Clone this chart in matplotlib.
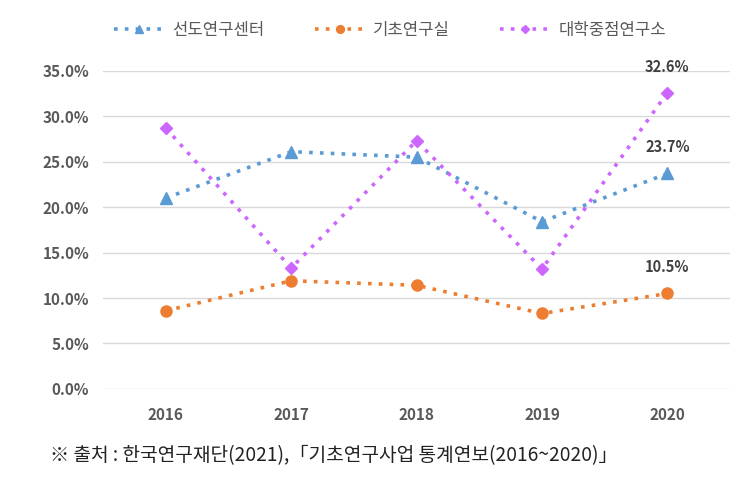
import matplotlib
matplotlib.use("Agg")
import matplotlib.pyplot as plt
from matplotlib.ticker import FuncFormatter

plt.rcParams['font.family'] = ['Noto Sans CJK KR', 'DejaVu Sans']

years = ['2016', '2017', '2018', '2019', '2020']
leading = [21.0, 26.1, 25.5, 18.4, 23.7]      # 선도연구센터
basic_lab = [8.6, 11.9, 11.4, 8.3, 10.5]      # 기초연구실
univ_inst = [28.7, 13.3, 27.3, 13.2, 32.6]    # 대학중점연구소
names = ['선도연구센터', '기초연구실', '대학중점연구소']
source = '※ 출처 : 한국연구재단(2021),「기초연구사업 통계연보(2016~2020)」'

fig = plt.figure(figsize=(7.36, 4.88), dpi=100)
ax = fig.add_axes([0.14, 0.203, 0.852, 0.652])

x = range(len(years))
series = [
    (leading, '#5B9BD5', '^', 8),
    (basic_lab, '#ED7D31', 'o', 8),
    (univ_inst, '#CC66FF', 'D', 6.5),
]
for (vals, col, mk, ms), name in zip(series, names):
    ax.plot(x, vals, color=col, marker=mk, markersize=ms, linestyle=(0, (1, 2)),
            linewidth=2.6, label=name, zorder=3)
    ax.annotate(f'{vals[-1]:.1f}%', (x[-1], vals[-1]), xytext=(0, 13),
                textcoords='offset points', ha='center', va='bottom',
                fontsize=10.5, fontweight='bold', color='#404040')

ax.set_ylim(0, 35)
ax.set_yticks(range(0, 36, 5))
ax.yaxis.set_major_formatter(FuncFormatter(lambda v, p: f'{v:.1f}%'))
ax.set_xlim(-0.5, 4.5)
ax.set_xticks(list(x))
ax.set_xticklabels(years)
ax.grid(axis='y', color='#D9D9D9', linewidth=1)
ax.set_axisbelow(True)
for s in ax.spines.values():
    s.set_visible(False)
ax.tick_params(length=0, labelsize=11, labelcolor='#595959', pad=10)
ax.tick_params(axis='x', pad=13)
for lab in ax.get_xticklabels() + ax.get_yticklabels():
    lab.set_fontweight('bold')

fig.legend(loc='upper center', bbox_to_anchor=(0.53, 0.985), ncol=3, frameon=False,
           fontsize=12, labelcolor='#595959', handlelength=3.0, handletextpad=0.5,
           columnspacing=3.0, markerscale=0.7)

fig.text(0.068, 0.067, source, fontsize=13.8, color='#222222', va='center')

fig.savefig('out.png', dpi=100)
